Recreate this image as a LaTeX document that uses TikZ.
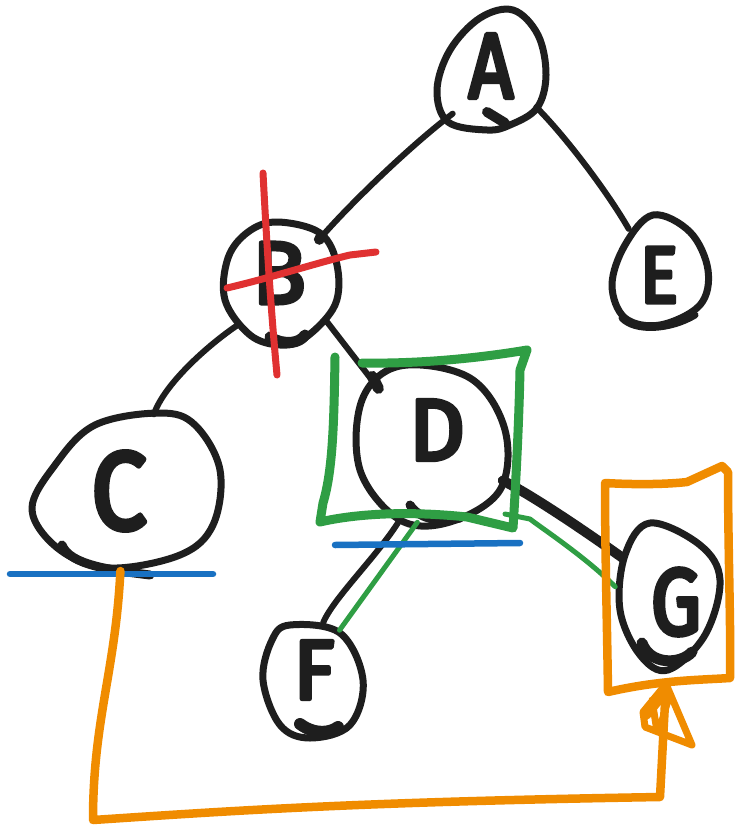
\documentclass[tikz,border=0pt]{standalone}
\usepackage{fontspec}
\newfontfamily\handfont{Fira Sans}[FakeBold=5]
\usetikzlibrary{shapes.geometric,calc}
\definecolor{ink}{HTML}{1E1E1E}
\definecolor{mred}{HTML}{E03131}
\definecolor{mgreen}{HTML}{2F9E44}
\definecolor{mblue}{HTML}{1971C2}
\definecolor{morange}{HTML}{F08C00}
\tikzset{
  hub/.style={shape=ellipse, inner sep=0pt},
  outline/.style={draw=ink, line width=7pt},
  edge/.style={draw=ink, line width=6pt},
  letter/.style={text=ink, inner sep=0pt},
  greenmark/.style={draw=mgreen, line width=5pt},
  bluemark/.style={draw=mblue, line width=6.5pt},
  redmark/.style={draw=mred, line width=7pt},
  orangemark/.style={draw=morange, line width=8.5pt},
}
\begin{document}
\begin{tikzpicture}[x=1pt, y=-1pt, line cap=round, line join=round]
\useasboundingbox[fill=white] (0,0) rectangle (741,834);

% anchor shapes for the tree nodes
\node[hub, minimum width=110pt, minimum height=124pt] (A) at (492,70) {};
\node[hub, minimum width=100pt, minimum height=110pt] (E) at (660,272) {};
\node[hub, minimum width=114pt, minimum height=120pt] (B) at (280,283) {};
\node[hub, minimum width=190pt, minimum height=160pt] (C) at (126,491) {};
\node[hub, minimum width=154pt, minimum height=160pt] (D) at (434,444) {};
\node[hub, minimum width=102pt, minimum height=116pt] (F) at (313,680) {};
\node[hub, minimum width=106pt, minimum height=148pt] (G) at (668,596) {};

% hand-drawn outlines
\draw[outline] plot[smooth cycle, tension=0.6] coordinates {(513,10) (538,35) (546,75) (537,108) (510,125) (487,130) (448,122) (437,90) (450,50) (480,18)};
\draw[outline] plot[smooth cycle, tension=0.6] coordinates {(653,215) (690,232) (708,270) (700,305) (660,325) (625,318) (612,285) (625,245)};
\draw[outline] plot[smooth cycle, tension=0.6] coordinates {(277,222) (320,233) (337,265) (335,305) (305,338) (280,345) (250,335) (225,300) (228,258) (248,232)};
\draw[outline] plot[smooth cycle, tension=0.6] coordinates {(160,413) (195,425) (220,470) (213,525) (180,555) (110,568) (60,550) (32,510) (55,465) (95,425)};
\draw[outline] plot[smooth cycle, tension=0.6] coordinates {(400,366) (470,378) (505,430) (500,490) (450,522) (400,520) (360,470) (362,400)};
\draw[outline] plot[smooth cycle, tension=0.6] coordinates {(290,625) (340,633) (363,680) (350,725) (310,738) (280,725) (263,680) (272,640)};
\draw[outline] plot[smooth cycle, tension=0.6] coordinates {(650,523) (700,545) (720,580) (705,635) (668,670) (640,655) (620,610) (625,555)};

% heavier overlapping strokes where the pen closed each loop
\draw[outline, line width=10pt] (487,112) -- (505,123);
\draw[outline] (622,318) .. controls (635,332) and (670,330) .. (695,315);
\draw[outline, line width=11pt] (270,337) .. controls (285,346) and (300,343) .. (305,335);
\draw[outline, line width=9pt] (62,545) .. controls (70,565) and (110,570) .. (150,575);
\draw[outline, line width=9pt] (410,505) .. controls (420,520) and (440,522) .. (460,518);
\draw[outline, line width=12pt] (300,724) .. controls (315,735) and (330,733) .. (338,727);
\draw[outline, line width=11pt] (642,643) .. controls (650,665) and (680,665) .. (692,652);

% letters
\node[letter, font=\handfont\fontsize{92}{92}\selectfont, xscale=0.85] (Al) at (491,66) {A};
\node[letter, font=\handfont\fontsize{80}{80}\selectfont, xscale=0.9] (El) at (659,275) {E};
\node[letter, font=\handfont\fontsize{88}{88}\selectfont] (Bl) at (279,273) {B};
\node[letter, font=\handfont\fontsize{110}{110}\selectfont, xscale=0.9] (Cl) at (119,491) {C};
\node[letter, font=\handfont\fontsize{87}{87}\selectfont] (Dl) at (437,430) {D};
\node[letter, font=\handfont\fontsize{84}{84}\selectfont] (Fl) at (314,670) {F};
\node[letter, font=\handfont\fontsize{94}{94}\selectfont, xscale=0.85] (Gl) at (676,602) {G};

% tree edges
\draw[edge] (A.228) .. controls +(-40,30) and +(30,-35) .. (B.48);
\fill[ink] (B.48) circle (5.5pt);
\draw[edge] (A.-40) .. controls +(30,30) and +(-20,-35) .. (E.126);
\draw[edge] (B.225) .. controls +(-30,20) and +(10,-30) .. (C.70);
\draw[edge] (B.-39) -- (D.135);
\draw[edge, line width=11pt] ($(D.135)+(-6,-12)$) -- (D.135);
\draw[edge] (D.246) .. controls +(-20,35) and +(10,-25) .. (F.80);
\draw[edge, line width=10pt] (D.-28) .. controls +(30,15) and +(-35,-25) .. (G.140);

% green selection of D and its links
\coordinate (boxcorner) at (505,514);
\draw[greenmark, line width=9pt] (335,357) .. controls (334,420) and (333,470) .. (323,503) -- (320,522)
  .. controls (350,515) and (400,510) .. (467,517) -- (513,528)
  .. controls (516,480) and (519,420) .. (520,370) -- (527,350)
  .. controls (480,358) and (420,364) .. (362,363);
\draw[greenmark] (D.258) -- (F.62);
\draw[greenmark] (boxcorner) -- ++(25,5) .. controls +(10,8) and +(-30,-30) .. (G.170);

% blue underlines
\draw[bluemark] (335,545) -- (520,543);
\draw[bluemark] (10,574) -- (213,574);

% red cross over B
\draw[redmark] (263,173) .. controls (266,230) and (270,300) .. (277,375);
\draw[redmark] (227,288) .. controls (270,278) and (320,262) .. (350,255) -- (376,252);

% orange frame round G and the arrow from C
\draw[orangemark] (605,483) .. controls (640,485) and (670,484) .. (687,482) -- (722,466) -- (728,472)
  .. controls (728,550) and (731,630) .. (730,678)
  .. controls (700,680) and (660,680) .. (608,692)
  .. controls (607,620) and (605,550) .. cycle;
\coordinate (Gtip) at (666,684);
\coordinate (turnL) at (93,820);
\coordinate (turnR) at (660,797);
\draw[orangemark] (C.266) .. controls +(-5,100) and +(0,-100) .. (turnL)
  .. controls +(150,-10) and +(-300,5) .. (turnR) -- (Gtip);
\draw[orangemark, line width=7pt] (Gtip) -- (643,712) -- (645,727) -- (692,745) -- cycle
  (652,700) -- (656,725) (662,698) -- (647,716) (668,700) -- (660,728);
\end{tikzpicture}
\end{document}
